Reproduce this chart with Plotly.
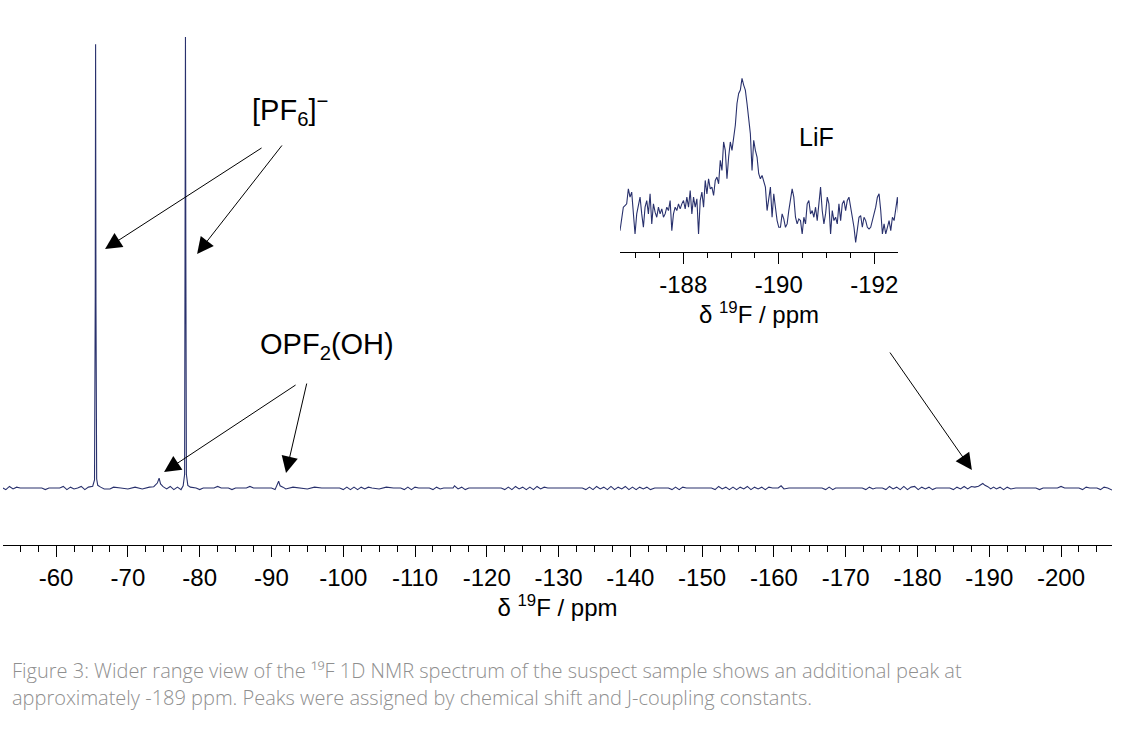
import plotly.graph_objects as go

# main 19F spectrum (ppm, relative intensity, tallest peak = 100)
main_ppm = [
    -52.6, -53.0, -53.5, -54.0, -54.5, -55.0, -58.0, -58.5, -59.0, -60.5, -61.0, -61.5, -62.0,
    -62.5, -63.0, -63.5, -64.0, -64.5, -65.1, -65.35, -65.45, -65.5, -65.55, -65.65, -65.8, -66.2,
    -66.7, -67.5, -68.0, -69.0, -70.0, -71.0, -72.0, -73.0, -73.6, -74.1, -74.35, -74.55, -74.9,
    -75.4, -75.9, -76.4, -76.9, -77.4, -77.7, -77.9, -77.97, -78.02, -78.07, -78.15, -78.35, -78.7,
    -79.5, -80.0, -80.5, -82.0, -82.5, -83.0, -84.0, -84.5, -85.0, -86.5, -87.0, -87.5, -90.0,
    -90.5, -91.0, -91.2, -91.6, -92.0, -93.0, -94.0, -95.0, -96.0, -97.0,
    -99.5, -100.0, -100.5, -101.0, -101.5, -102.0, -102.5, -103.0, -103.5, -104.0,
    -105.0, -106.0, -107.0, -108.0, -108.5, -109.0, -109.5, -110.0, -110.5, -112.0,
    -112.5, -113.0, -113.5, -114.0, -115.3, -115.5, -116.0, -116.5, -117.0, -117.5,
    -122.0, -122.5, -123.0, -123.5, -124.0, -124.5, -125.0, -125.5, -126.0, -126.5, -127.0,
    -127.5, -128.0, -128.5, -130.0,
    -133.3, -133.8, -134.3, -134.8, -135.3, -135.8, -136.3, -136.8, -137.3, -137.8, -138.3,
    -138.8, -139.3, -139.8, -140.3, -140.8, -141.3, -141.8, -142.3, -142.8, -143.4,
    -145.3, -145.8, -146.3, -146.8, -147.3, -147.8, -151.3, -151.8, -152.3, -152.8, -153.3,
    -153.8, -154.3, -154.8, -155.3, -155.8, -156.3, -156.8, -157.3, -157.8, -158.3, -158.8,
    -159.3, -159.8, -160.6, -161.0, -161.4, -162.1,
    -166.7, -167.2, -167.7, -168.2, -168.6, -172.3, -172.8, -173.3, -173.8, -174.2, -175.1,
    -175.6, -176.1, -176.6, -177.1, -177.6, -178.1, -178.6, -179.1, -179.6, -180.1, -180.6,
    -181.1, -181.6, -182.1, -182.6,
    -184.5, -185.0, -185.5, -186.0, -186.5, -187.0, -187.5, -188.0, -188.5, -188.8, -189.1,
    -189.4, -189.8, -190.2, -190.6, -191.0, -191.5, -192.0, -192.5, -193.0, -193.7, -196.5,
    -197.0, -197.5, -199.5, -200.0, -200.5, -202.5, -203.0, -203.5, -204.0, -205.0, -205.5,
    -206.0, -206.5, -207.1,
]
main_int = [
    0, -0.35, 0.35, -0.2, 0.2, 0, 0, -0.35, 0, 0, 0.35, -0.35, 0.2,
    -0.2, 0, 0.35, -0.35, 0.2, 0.4, 1.8, 42.3, 98.2, 41, 2.0, 0.6, 0.2,
    -0.2, -0.2, 0.2, 0, -0.2, 0.2, -0.2, 0.2, 0.3, 1.1, 2.2, 0.9, 0.3,
    -0.2, 0.35, -0.35, 0.2, -0.35, 0.5, 3, 54, 99.8, 54, 3, 0.6, 0.2,
    0, -0.35, 0, 0, 0.35, 0, 0, -0.35, 0, 0, 0.35, 0, 0,
    -0.35, 1.5, 0.5, 0.2, -0.2, 0.2, 0, -0.2, 0.2, 0,
    0, -0.35, 0.2, -0.35, 0.2, -0.35, 0.2, -0.2, 0.2, 0,
    -0.2, 0.2, 0, 0, -0.35, 0.2, -0.35, 0.2, 0, 0,
    -0.35, 0.2, -0.2, 0, 0, 0.5, -0.2, 0.2, -0.35, 0,
    0, -0.35, 0.2, -0.35, 0.35, -0.2, 0.2, -0.35, 0.2, -0.35, 0.35,
    -0.2, 0.2, 0, 0,
    0, -0.35, 0.2, -0.35, 0.35, -0.2, 0.2, -0.35, 0.35, -0.35, 0.2,
    -0.2, 0.35, -0.35, 0.2, -0.35, 0.2, -0.2, 0.2, -0.35, 0,
    0, -0.35, 0.2, -0.35, 0.2, 0, 0, -0.35, 0.35, -0.2, 0.2,
    -0.35, 0.2, -0.35, 0.2, -0.2, 0.35, -0.35, 0.2, -0.2, 0.2, -0.35,
    0.2, 0, 0, 0.5, -0.2, 0,
    0, -0.35, 0.2, -0.35, 0, 0, -0.35, 0.2, -0.2, 0, 0,
    -0.35, 0.35, -0.2, 0.2, -0.35, 0.35, -0.35, 0.2, 0.35, -0.35, 0.2,
    -0.2, 0.2, -0.35, 0,
    0, -0.35, 0.2, -0.2, 0.35, -0.2, 0.35, 0.2, 0.4, 0.7, 1.0,
    0.6, 0.3, -0.2, 0.2, -0.2, 0.2, -0.35, 0.2, -0.2, 0, 0,
    -0.35, 0, 0, 0.35, 0, 0, -0.35, 0.2, 0, 0, -0.35,
    0.2, 0, -0.45,
]

# expanded LiF region (inset)
inset_ppm = [
    -186.675, -186.710, -186.745, -186.780, -186.815, -186.850, -186.885, -186.920, -186.955, -186.990,
    -187.025, -187.060, -187.095, -187.130, -187.165, -187.200, -187.235, -187.270, -187.305, -187.340,
    -187.375, -187.410, -187.445, -187.480, -187.515, -187.550, -187.585, -187.620, -187.655, -187.690,
    -187.725, -187.760, -187.795, -187.830, -187.865, -187.900, -187.935, -187.970, -188.005, -188.040,
    -188.075, -188.110, -188.145, -188.180, -188.215, -188.250, -188.285, -188.320, -188.355, -188.390,
    -188.425, -188.460, -188.495, -188.530, -188.565, -188.600, -188.635, -188.670, -188.705, -188.740,
    -188.775, -188.810, -188.845, -188.880, -188.915, -188.950, -188.985, -189.020, -189.055, -189.090,
    -189.125, -189.160, -189.195, -189.230, -189.265, -189.300, -189.335, -189.370, -189.405, -189.440,
    -189.475, -189.510, -189.545, -189.580, -189.615, -189.650, -189.685, -189.720, -189.755, -189.790,
    -189.825, -189.860, -189.895, -189.930, -189.965, -190.000, -190.035, -190.070, -190.105, -190.140,
    -190.175, -190.210, -190.245, -190.280, -190.315, -190.350, -190.385, -190.420, -190.455, -190.490,
    -190.525, -190.560, -190.595, -190.630, -190.665, -190.700, -190.735, -190.770, -190.805, -190.840,
    -190.875, -190.910, -190.945, -190.980, -191.015, -191.050, -191.085, -191.120, -191.155, -191.190,
    -191.225, -191.260, -191.295, -191.330, -191.365, -191.400, -191.435, -191.470, -191.505, -191.540,
    -191.575, -191.610, -191.645, -191.680, -191.715, -191.750, -191.785, -191.820, -191.855, -191.890,
    -191.925, -191.960, -191.995, -192.030, -192.065, -192.100, -192.135, -192.170, -192.205, -192.240,
    -192.275, -192.310, -192.345, -192.380, -192.415, -192.450, -192.485, -192.520,
]
inset_int = [
    5, 9.5, 12, 12.5, 13, 17.5, 15, 16.5, 9, 4,
    10, 13, 15, 10, 6, 12, 14, 10, 16, 7,
    13, 10.5, 9, 12, 10, 11.5, 9, 10, 12, 11,
    14, 5, 10, 12, 11, 13, 11.5, 13, 14, 11.5,
    15, 12, 17, 10, 15, 12, 14.5, 4, 14, 16.5,
    12, 20, 16, 20.5, 17.5, 18, 15.5, 20, 21, 19,
    26, 23, 31.5, 29, 20.5, 27, 31.5, 29, 33, 36.5,
    43, 46, 47, 50.5, 48.5, 47, 43, 38.5, 34, 23,
    32, 29, 27, 22, 20.5, 21.5, 20, 18, 11, 15,
    18, 9, 16, 12, 8, 6, 6, 10, 8.5, 6,
    7, 11, 14, 17.5, 15, 9, 7, 8.5, 8, 4,
    9, 7, 13, 14, 10, 11, 9, 12, 8, 14,
    18, 11, 7, 10, 15, 13, 4, 11, 8, 9,
    7, 13, 8, 13, 14, 11, 14, 15, 12, 9,
    6, 1.5, 5, 9, 9.5, 6, 9, 8, 6, 5.5,
    6, 8, 10, 12, 15, 16, 11, 4, 7, 4,
    6, 8, 5, 9, 8, 12, 15, 7.5,
]

main_tick_vals = [-60, -70, -80, -90, -100, -110, -120, -130, -140, -150, -160, -170, -180, -190, -200]
main_tick_text = ["-60", "-70", "-80", "-90", "-100", "-110", "-120", "-130", "-140",
                  "-150", "-160", "-170", "-180", "-190", "-200"]
inset_tick_vals = [-188, -190, -192]
inset_tick_text = ["-188", "-190", "-192"]

assert len(main_ppm) == len(main_int)
assert len(inset_ppm) == len(inset_int)

LINE = "#29316d"
FONT = "Liberation Sans, Arial, sans-serif"
axis_title = "δ <sup>19</sup>F / ppm"

fig = go.Figure()
fig.add_trace(go.Scatter(x=main_ppm, y=main_int, mode="lines",
                         line=dict(color=LINE, width=1.1), xaxis="x", yaxis="y"))
fig.add_trace(go.Scatter(x=inset_ppm, y=inset_int, mode="lines",
                         line=dict(color=LINE, width=1.1), xaxis="x2", yaxis="y2"))

common_x = dict(showline=True, linecolor="black", linewidth=1.3, showgrid=False, zeroline=False,
                ticks="outside", ticklen=11, tickwidth=1.3, tickcolor="black",
                tickfont=dict(family=FONT, size=24, color="black"))

fig.update_layout(
    width=1133, height=735,
    margin=dict(l=3, r=21, t=36, b=190),
    paper_bgcolor="white", plot_bgcolor="white",
    showlegend=False,
    xaxis=dict(domain=[0, 1], range=[-52.6, -207.1], anchor="y",
               tickmode="array", tickvals=main_tick_vals, ticktext=main_tick_text,
               minor=dict(tickmode="linear", tick0=0, dtick=2.5, ticklen=6, tickwidth=1,
                          tickcolor="black", ticks="outside"),
               title=dict(text=axis_title, font=dict(family=FONT, size=24, color="black"), standoff=2),
               **common_x),
    yaxis=dict(domain=[0, 1], range=[-12.6, 100], visible=False),
    xaxis2=dict(domain=[0.5564, 0.8070], range=[-186.676, -192.496], anchor="y2",
                tickmode="array", tickvals=inset_tick_vals, ticktext=inset_tick_text,
                minor=dict(tickmode="linear", tick0=0, dtick=0.5, ticklen=5, tickwidth=1,
                           tickcolor="black", ticks="outside"),
                title=dict(text=axis_title, font=dict(family=FONT, size=24, color="black"), standoff=0),
                **common_x),
    yaxis2=dict(domain=[0.5762, 0.9299], range=[-1.3, 52.5], anchor="x2", visible=False),
)

# peak labels
labels = [
    ("[PF<sub>6</sub>]<sup>−</sup>", -92.6, 83.6, 29),
    ("OPF<sub>2</sub>(OH)", -97.7, 31.4, 29),
    ("LiF", -165.9, 77.7, 25),
]
for text, x, y, size in labels:
    fig.add_annotation(x=x, y=y, xref="x", yref="y", text=text, showarrow=False,
                       font=dict(family=FONT, size=size, color="black"))

# arrows: (tail ppm, tail y, head ppm, head y)
arrows = [
    (-88.83, 75.44, -66.82, 52.88),
    (-91.62, 76.11, -79.64, 51.77),
    (-93.57, 23.01, -75.04, 3.54),
    (-94.96, 23.45, -92.03, 3.32),
    (-176.02, 30.31, -187.58, 3.98),
]
for ax, ay, hx, hy in arrows:
    fig.add_annotation(x=hx, y=hy, ax=ax, ay=ay, xref="x", yref="y", axref="x", ayref="y",
                       text="", showarrow=True, arrowhead=2, arrowsize=3.3, arrowwidth=1,
                       arrowcolor="black")

caption = [
    "Figure 3: Wider range view of the ¹⁹F 1D NMR spectrum of the suspect sample shows an additional peak at",
    "approximately -189 ppm. Peaks were assigned by chemical shift and J-coupling constants.",
]
for i, line in enumerate(caption):
    fig.add_annotation(x=0.0063, y=-0.2475 - i * 0.053, xref="paper", yref="paper",
                       xanchor="left", yanchor="middle", text=line, showarrow=False,
                       font=dict(family="Open Sans, sans-serif", size=20, color="#8f8f8f", weight=300))

fig.write_html("out.html", config={"displayModeBar": False},
               post_script="document.body.style.margin='0';")
